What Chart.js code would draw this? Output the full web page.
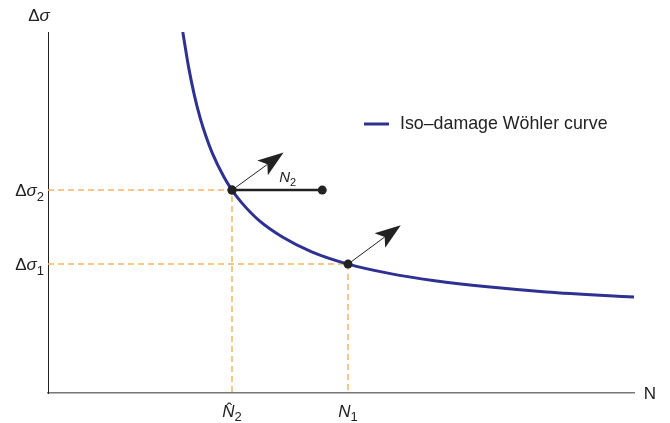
<!DOCTYPE html>
<html>
<head>
<meta charset="utf-8">
<script src="https://cdn.jsdelivr.net/npm/chart.js@4.4.1/dist/chart.umd.min.js"></script>
<style>
  html, body { margin: 0; padding: 0; background: #fff; }
  #wrap { width: 670px; height: 423px; }
</style>
</head>
<body>
<div id="wrap"><canvas id="c"></canvas></div>
<script>
// Кривая Вёлера (условные единицы 0..100)
const curveN = [23.0, 24, 25, 26, 27, 28, 30, 31.4, 33, 36, 40, 45, 51.2, 58, 66, 75, 85, 100];
const curveS = [100, 90.2, 82.3, 76.0, 70.9, 66.6, 59.9, 56.2, 52.8, 47.8, 43.2, 39.1, 35.7, 33.2, 31.1, 29.4, 28.0, 26.6];

// Точки на кривой: N2^ / Δσ2 и N1 / Δσ1
const pointN = [31.4, 51.2];
const pointS = [56.2, 35.7];

// Отрезок N2 (от точки на кривой вправо)
const segN = [31.4, 46.8];
const segS = [56.2, 56.2];

// Стрелки (начало в точках, конец)
const arrowToN = [40.2, 60.2];
const arrowToS = [66.6, 46.5];

// Подписи делений
const xTickValues = [31.4, 51.2];
const xTickLabels = [[{ t: 'N', i: true, hat: true }, { t: '2', sub: true }], [{ t: 'N', i: true }, { t: '1', sub: true }]];
const yTickValues = [56.2, 35.7];
const yTickLabels = [[{ t: 'Δ' }, { t: 'σ', i: true }, { t: '2', sub: true }], [{ t: 'Δ' }, { t: 'σ', i: true }, { t: '1', sub: true }]];

const legendLabel = 'Iso\u2013damage Wöhler curve';
const curveColor = '#2e3192';
const guideColor = '#f6b466';
const FONT = '"Liberation Sans", Arial, sans-serif';

const xy = (xs, ys) => xs.map((x, i) => ({ x: x, y: ys[i] }));

// Рисуем текст с курсивом и нижними индексами
function richText(ctx, parts, x, y, size, align) {
  const fontOf = (p) => {
    const s = p.sub ? Math.round(size * 0.75) : size;
    return (p.i ? 'italic ' : '') + s + 'px ' + FONT;
  };
  let total = 0;
  parts.forEach((p) => { ctx.font = fontOf(p); total += ctx.measureText(p.t).width; });
  let cx = align === 'right' ? x - total : align === 'center' ? x - total / 2 : x;
  ctx.textAlign = 'left';
  ctx.textBaseline = 'alphabetic';
  parts.forEach((p) => {
    ctx.font = fontOf(p);
    const w = ctx.measureText(p.t).width;
    ctx.fillText(p.t, cx, p.sub ? y + size * 0.26 : y);
    if (p.hat) {
      ctx.font = size + 'px ' + FONT;
      ctx.fillText('\u02C6', cx + w / 2 - 2, y - size * 0.78 + 11);
    }
    cx += w;
  });
}

const annotations = {
  id: 'annotations',
  afterDatasetsDraw(chart) {
    const { ctx, scales: { x, y } } = chart;
    ctx.save();
    ctx.fillStyle = '#222';

    // стрелки
    pointN.forEach((n, i) => {
      const x0 = x.getPixelForValue(n), y0 = y.getPixelForValue(pointS[i]);
      const x1 = x.getPixelForValue(arrowToN[i]), y1 = y.getPixelForValue(arrowToS[i]);
      const a = Math.atan2(y1 - y0, x1 - x0);
      const len = 26, half = 9, notch = 6;
      ctx.strokeStyle = '#222';
      ctx.lineWidth = 1;
      ctx.beginPath();
      ctx.moveTo(x0, y0);
      ctx.lineTo(x1 - Math.cos(a) * (len - notch), y1 - Math.sin(a) * (len - notch));
      ctx.stroke();
      ctx.beginPath();
      ctx.moveTo(x1, y1);
      ctx.lineTo(x1 - Math.cos(a) * len - Math.sin(a) * half, y1 - Math.sin(a) * len + Math.cos(a) * half);
      ctx.lineTo(x1 - Math.cos(a) * (len - notch), y1 - Math.sin(a) * (len - notch));
      ctx.lineTo(x1 - Math.cos(a) * len + Math.sin(a) * half, y1 - Math.sin(a) * len - Math.cos(a) * half);
      ctx.closePath();
      ctx.fill();
    });

    // подпись N2 над отрезком
    richText(ctx, [{ t: 'N', i: true }, { t: '2', sub: true }], x.getPixelForValue(40.9), y.getPixelForValue(56.2) - 8, 15, 'center');

    // подписи делений
    xTickValues.forEach((v, i) => richText(ctx, xTickLabels[i], x.getPixelForValue(v), 417, 17, 'center'));
    yTickValues.forEach((v, i) => richText(ctx, yTickLabels[i], 44, y.getPixelForValue(v) + 6, 17, 'right'));

    // подписи осей
    richText(ctx, [{ t: 'Δ' }, { t: 'σ', i: true }], 39, 21, 17, 'center');
    richText(ctx, [{ t: 'N' }], 650, 399, 17, 'center');

    // легенда
    ctx.strokeStyle = curveColor;
    ctx.lineWidth = 3;
    ctx.beginPath();
    ctx.moveTo(364, 124);
    ctx.lineTo(389, 124);
    ctx.stroke();
    ctx.fillStyle = '#222';
    ctx.font = '17.8px ' + FONT;
    ctx.textBaseline = 'middle';
    ctx.fillText(legendLabel, 400, 124);
    ctx.restore();
  },
};

new Chart(document.getElementById('c'), {
  type: 'scatter',
  data: {
    datasets: [
      { label: 'guide2', type: 'line', order: 4, data: [{ x: 0, y: pointS[0] }, { x: pointN[0], y: pointS[0] }, { x: pointN[0], y: 0 }],
        borderColor: guideColor, borderWidth: 1.5, borderDash: [6, 4], pointRadius: 0, tension: 0 },
      { label: 'guide1', type: 'line', order: 4, data: [{ x: 0, y: pointS[1] }, { x: pointN[1], y: pointS[1] }, { x: pointN[1], y: 0 }],
        borderColor: guideColor, borderWidth: 1.5, borderDash: [6, 4], pointRadius: 0, tension: 0 },
      { label: legendLabel, type: 'line', order: 3, data: xy(curveN, curveS), borderColor: curveColor, borderWidth: 3,
        pointRadius: 0, cubicInterpolationMode: 'monotone' },
      { label: 'N2', type: 'line', order: 2, data: xy(segN, segS), borderColor: '#222', borderWidth: 2.5,
        pointRadius: 4.5, pointBackgroundColor: '#222', pointBorderColor: '#222', pointBorderWidth: 0 },
      { label: 'points', order: 1, data: xy(pointN, pointS), pointRadius: 4.5,
        pointBackgroundColor: '#222', pointBorderColor: '#222', pointBorderWidth: 0 },
    ],
  },
  options: {
    responsive: true,
    maintainAspectRatio: false,
    animation: false,
    events: [],
    layout: { padding: { left: 48, right: 36, top: 32, bottom: 30 } },
    plugins: { legend: { display: false }, tooltip: { enabled: false } },
    scales: {
      x: {
        type: 'linear', min: 0, max: 100,
        grid: { display: false },
        ticks: { display: false },
        border: { color: '#777', width: 1.5 },
        afterFit: (s) => { s.height = 0; },
      },
      y: {
        type: 'linear', min: 0, max: 100,
        grid: { display: false },
        ticks: { display: false },
        border: { color: '#222', width: 1 },
        afterFit: (s) => { s.width = 0; },
      },
    },
  },
  plugins: [annotations],
});
</script>
</body>
</html>
